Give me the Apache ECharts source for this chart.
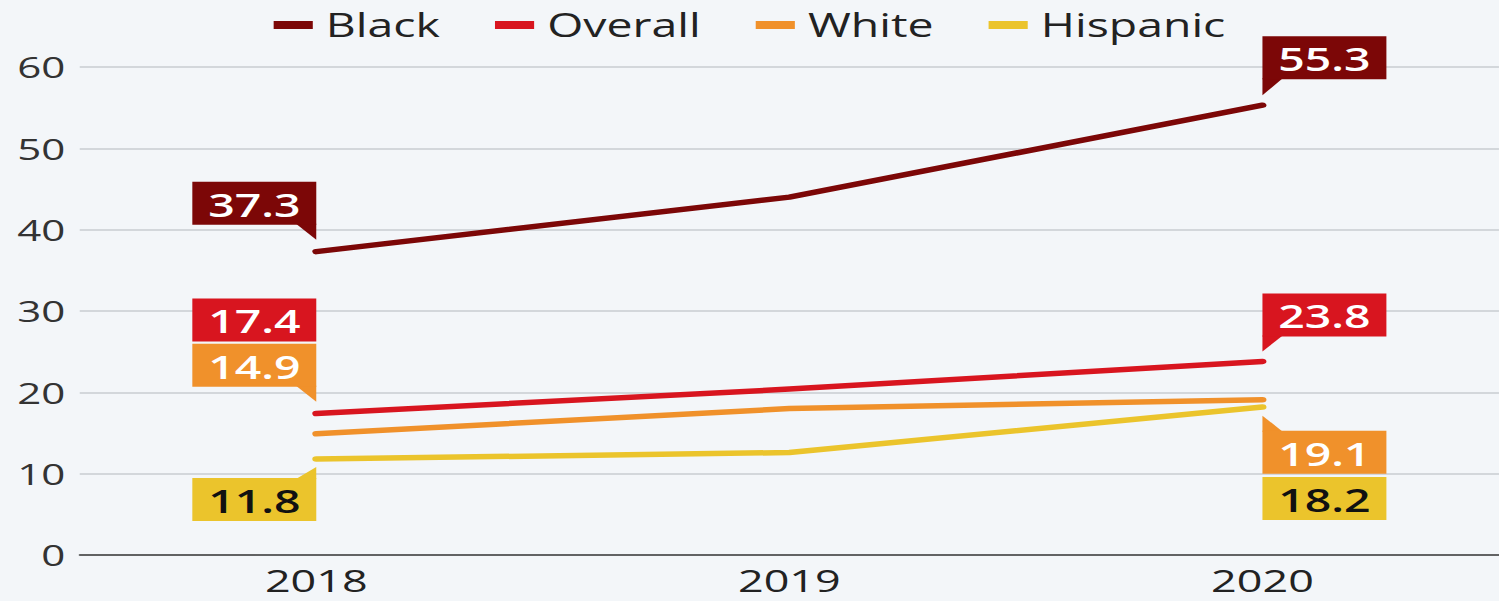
<!DOCTYPE html>
<html><head><meta charset="utf-8">
<script src="https://cdn.jsdelivr.net/npm/echarts@6/dist/echarts.min.js"></script>
<style>
html,body{margin:0;padding:0;background:#f3f6f9;overflow:hidden;}
#wrap{width:1499px;height:601px;overflow:hidden;}
#chart{width:1034px;height:601px;transform:scaleX(1.4497);transform-origin:0 0;}
</style></head><body>
<div id="wrap"><div id="chart"></div></div>
<script>
// ---- data ----
const years = ['2018', '2019', '2020'];
const seriesNames = ['Black', 'Overall', 'White', 'Hispanic'];
const black = [37.3, 44.0, 55.3];
const overall = [17.4, 20.4, 23.8];
const white = [14.9, 18.0, 19.1];
const hispanic = [11.8, 12.6, 18.2];
const yMin = 0, yMax = 60, yStep = 10;

// ---- styles / layout ----
const colors = ['#7c0707', '#d8151f', '#f0912b', '#ebc42c'];
const labelTextColors = ['#ffffff', '#ffffff', '#ffffff', '#111111'];
const values = [black, overall, white, hispanic];
// callout placement (pixels relative to point), separate from data
const calloutLayout = [
  {s: 0, i: 0, side: 'left', dir: 'up', gap: 27, tip: 12},
  {s: 1, i: 0, side: 'left', dir: 'up', gap: 72, tip: null},
  {s: 2, i: 0, side: 'left', dir: 'up', gap: 47, tip: 32},
  {s: 3, i: 0, side: 'left', dir: 'down', gap: 19, tip: 8},
  {s: 0, i: 2, side: 'right', dir: 'up', gap: 26, tip: 10},
  {s: 1, i: 2, side: 'right', dir: 'up', gap: 25, tip: 10},
  {s: 2, i: 2, side: 'right', dir: 'down', gap: 31, tip: 16},
  {s: 3, i: 2, side: 'right', dir: 'down', gap: 70, tip: null}
];
const BW = 85.5, BH = 43, TW = 14;
const FONT = '"Open Sans", "Noto Sans", sans-serif';

const chart = echarts.init(document.getElementById('chart'), null, {renderer: 'svg'});

const lineSeries = seriesNames.map((name, k) => ({
  name: name,
  type: 'line',
  data: values[k],
  showSymbol: false,
  symbol: 'none',
  color: colors[k],
  lineStyle: {width: 5.5, color: colors[k], cap: 'round', join: 'round'},
  z: 3 + (seriesNames.length - k),
  animation: false
}));

const calloutSeries = {
  name: 'callouts',
  type: 'custom',
  data: calloutLayout.map(sp => [sp.i, values[sp.s][sp.i]]),
  encode: {x: 0, y: 1},
  clip: false,
  z: 20,
  silent: true,
  animation: false,
  renderItem: function (params, api) {
    const sp = calloutLayout[params.dataIndex];
    const val = api.value(1);
    const pt = api.coord([api.value(0), val]);
    const px = pt[0], py = pt[1];
    const up = sp.dir === 'up';
    const x0 = sp.side === 'left' ? px - BW : px;
    const y0 = up ? py - sp.gap - BH : py + sp.gap;
    const fill = colors[sp.s];
    const children = [];
    if (sp.tip != null) {
      const edge = up ? y0 + BH - 1 : y0 + 1;
      const tipY = up ? py - sp.tip : py + sp.tip;
      const pts = sp.side === 'left'
        ? [[px - TW, edge], [px, edge], [px, tipY]]
        : [[px, edge], [px + TW, edge], [px, tipY]];
      children.push({type: 'polygon', shape: {points: pts}, style: {fill: fill}});
    }
    children.push({type: 'rect', shape: {x: x0, y: y0, width: BW, height: BH}, style: {fill: fill}});
    children.push({
      type: 'text',
      style: {
        text: val.toFixed(1),
        x: x0 + BW / 2, y: y0 + BH / 2 + 1,
        align: 'center', verticalAlign: 'middle',
        fill: labelTextColors[sp.s],
        fontSize: 32, fontWeight: 600, fontFamily: FONT
      }
    });
    return {type: 'group', children: children};
  }
};

chart.setOption({
  backgroundColor: '#f3f6f9',
  animation: false,
  textStyle: {fontFamily: FONT},
  legend: {
    data: seriesNames,
    top: 4,
    left: 'center',
    icon: 'rect',
    itemWidth: 27,
    itemHeight: 8,
    itemGap: 38,
    textStyle: {fontSize: 32, color: '#222', fontFamily: FONT, padding: [0, 0, 0, 4]}
  },
  grid: {left: 55, right: -2, top: 67, bottom: 46, containLabel: false},
  xAxis: {
    type: 'category',
    data: years,
    boundaryGap: true,
    axisLine: {show: true, lineStyle: {color: '#3c3c3c', width: 1.5}},
    axisTick: {show: false},
    axisLabel: {fontSize: 31, lineHeight: 26, color: '#222', margin: 12, fontFamily: FONT},
    splitLine: {show: false}
  },
  yAxis: {
    type: 'value',
    min: yMin, max: yMax, interval: yStep,
    axisLine: {show: false},
    axisTick: {show: false},
    axisLabel: {fontSize: 29, color: '#333', margin: 10, fontFamily: FONT},
    splitLine: {show: true, lineStyle: {color: '#c9cdd1', width: 1.5}}
  },
  series: lineSeries.concat([calloutSeries])
});
</script>
</body></html>
